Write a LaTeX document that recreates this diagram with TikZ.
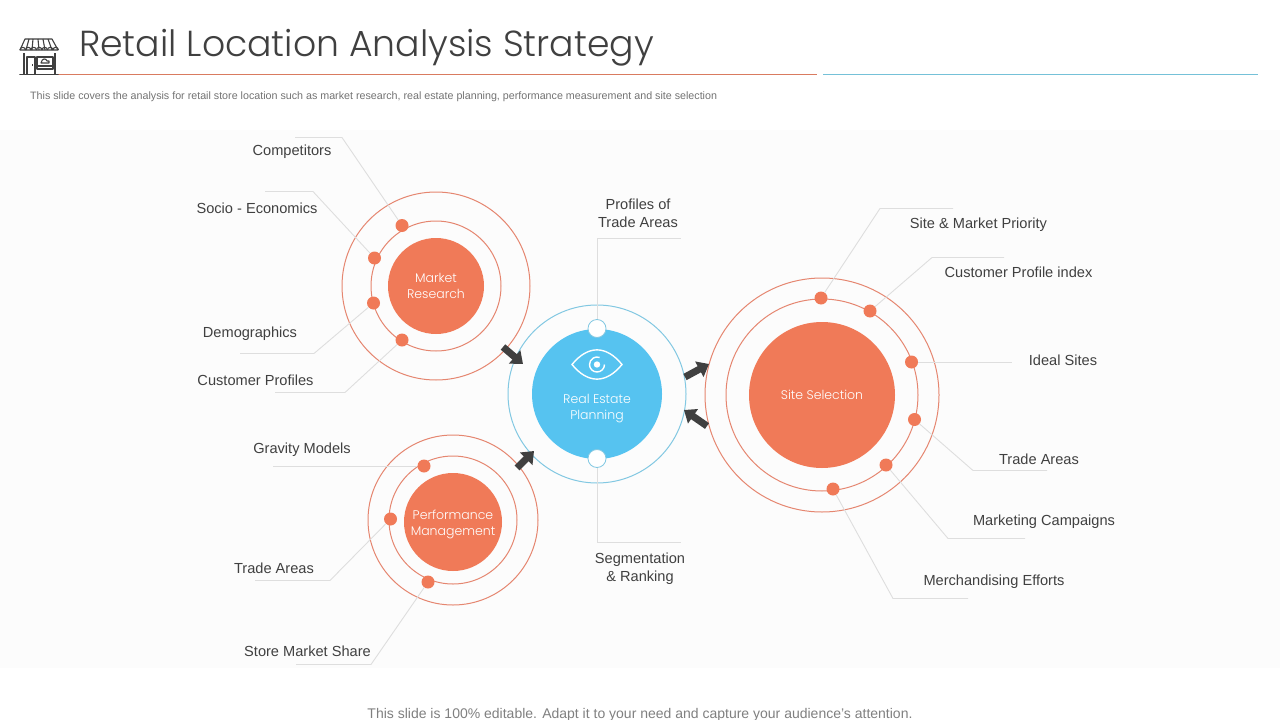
\documentclass[tikz,border=0pt]{standalone}
\usepackage{fontspec}
\setmainfont{Liberation Sans}
\newfontfamily\titlefont{Poppins Light}
\newfontfamily\bubblefont{Poppins Light}
\usetikzlibrary{arrows.meta}
\definecolor{coral}{HTML}{F07A58}
\definecolor{coralring}{HTML}{E58670}
\definecolor{skyfill}{HTML}{56C3F0}
\definecolor{skyring}{HTML}{82C8E2}
\definecolor{leader}{HTML}{DEDEDE}
\definecolor{labeltext}{HTML}{404040}
\tikzset{
    ring/.style={circle,draw=coralring,line width=1pt,inner sep=0pt},
    hub/.style={circle,fill=coral,text=white,inner sep=0pt,align=center,font=\bubblefont\fontsize{12.5}{16}\selectfont},
    dot/.style={circle,fill=coral,inner sep=0pt,minimum size=13pt},
    port/.style={circle,draw=skyring,fill=white,line width=0.8pt,inner sep=0pt,minimum size=18pt},
    lbl/.style={text=labeltext,align=center,font=\fontsize{14.6}{18}\selectfont},
    lead/.style={draw=leader,line width=0.9pt},
    push/.style={draw=labeltext,line width=7pt,-{Triangle[length=11pt,width=17pt]}}
}
\begin{document}
\begin{tikzpicture}[x=1pt,y=-1pt]
    \useasboundingbox (0,0) rectangle (1280,720);
    \fill[white] (0,0) rectangle (1280,720);
    \fill[black!1] (0,130) rectangle (1280,668);

    % heading
    \node[anchor=west,inner sep=0pt,text=labeltext,font=\titlefont\fontsize{36.2}{40}\selectfont] (title) at (79,48) {Retail Location Analysis Strategy};
    \node[anchor=west,inner sep=0pt,text=black!55,font=\fontsize{10.7}{12}\selectfont] (subtitle) at (30,96.5) {This slide covers the analysis for retail store location such as market research, real estate planning, performance measurement and site selection};
    \coordinate (rulea) at (58,74.5);
    \coordinate (ruleb) at (817,74.5);
    \coordinate (rulec) at (823,74.5);
    \coordinate (ruled) at (1258,74.5);
    \draw[draw=coral!80!gray,line width=1pt] (rulea) -- (ruleb);
    \draw[draw=skyring!90!teal,line width=1pt] (rulec) -- (ruled);
    \node[text=black!50,font=\fontsize{14}{16}\selectfont] (footer) at (640,715) {This slide is 100\% editable. Adapt it to your need and capture your audience's attention.};

    % shop icon
    \begin{scope}[draw=labeltext,line width=1.1pt,line join=round]
        \draw (25,39) -- (52,39) -- (58,50) -- (20,50) -- cycle;
        \foreach \xa/\xb in {29/26,33/32,38/39,43/45,48/52}
            \draw (\xa,39) -- (\xb,50);
        \foreach \xa in {20,25.5,31,36.5,42,47.5,53}
            \draw (\xa,50) arc[start angle=180,end angle=360,radius=2.7];
        \draw (24,53) -- (24,74) (55,53) -- (55,74);
        \draw (27,74) -- (27,57) -- (35,57) -- (35,74);
        \draw (32.5,64) -- (32.5,66);
        \draw (37,57) rectangle (53,69);
        \draw (37,66) -- (53,66);
        \draw (41,63) .. controls (42,58) and (46,58) .. (47,61) -- (49,61) -- (49,63) -- cycle;
        \draw[line width=1.6pt,line cap=round] (20,74.5) -- (58,74.5);
    \end{scope}

    % market research
    \node[ring,minimum size=188pt] (mrouter) at (436,286) {};
    \node[ring,minimum size=130pt] (mrmid) at (436,286) {};
    \node[hub,minimum size=96pt] (mr) at (436,286) {Market\\Research};
    \node[dot] (mra) at (402,225.5) {};
    \node[dot] (mrb) at (374.5,258) {};
    \node[dot] (mrc) at (373.5,303) {};
    \node[dot] (mrd) at (402,340) {};

    % performance management
    \node[ring,minimum size=170pt] (pmouter) at (453,520) {};
    \node[ring,minimum size=128pt] (pmmid) at (453,520) {};
    \node[hub,minimum size=98pt] (pm) at (453,522) {\\[-2pt]Performance\\Management};
    \node[dot] (pma) at (424,466) {};
    \node[dot] (pmb) at (390.5,519) {};
    \node[dot] (pmc) at (428,582) {};

    % site selection
    \node[ring,minimum size=234pt] (ssouter) at (822,395) {};
    \node[ring,minimum size=192pt] (ssmid) at (822,395) {};
    \node[hub,minimum size=146pt] (ss) at (822,395) {Site Selection};
    \node[dot] (ssa) at (821,298) {};
    \node[dot] (ssb) at (870,311) {};
    \node[dot] (ssc) at (911.5,362) {};
    \node[dot] (ssd) at (914.5,419.5) {};
    \node[dot] (sse) at (886,465) {};
    \node[dot] (ssf) at (833,489) {};

    % real estate planning
    \node[circle,draw=skyring,line width=1pt,inner sep=0pt,minimum size=178pt] (reouter) at (597,394) {};
    \node[circle,fill=skyfill,text=white,inner sep=0pt,minimum size=130pt,align=center,font=\bubblefont\fontsize{12.5}{16}\selectfont] (re) at (597,394) {\\[22pt]Real Estate\\Planning};
    \node[port] (rea) at (597,328.5) {};
    \node[port] (reb) at (597,458.5) {};

    % eye
    \begin{scope}[draw=white,line width=1.4pt]
        \draw (572,364.5) .. controls (588,345) and (606,345) .. (622,364.5) .. controls (606,384) and (588,384) .. (572,364.5) -- cycle;
        \draw (604.5,364.5) arc[start angle=0,end angle=290,radius=7.5];
        \fill[white] (597,364.5) circle (3.2);
    \end{scope}

    % labels
    \node[lbl] (competitors) at (292,152) {Competitors};
    \node[lbl] (socio) at (257,208.5) {Socio - Economics};
    \node[lbl] (demo) at (250,334) {Demographics};
    \node[lbl] (custprof) at (255.5,380) {Customer Profiles};
    \node[lbl] (gravity) at (302,449.5) {Gravity Models};
    \node[lbl] (tradea) at (274,568.5) {Trade Areas};
    \node[lbl] (share) at (307.5,651.5) {Store Market Share};
    \node[lbl] (profiles) at (638,213) {Profiles of\\Trade Areas};
    \node[lbl] (segment) at (640,568.5) {Segmentation\\\& Ranking};
    \node[lbl] (priority) at (978.5,224.5) {Site \& Market Priority};
    \node[lbl] (custidx) at (1018.5,272.5) {Customer Profile index};
    \node[lbl] (ideal) at (1063,360.5) {Ideal Sites};
    \node[lbl] (tradeb) at (1039,459.5) {Trade Areas};
    \node[lbl] (campaign) at (1044,521.5) {Marketing Campaigns};
    \node[lbl] (merch) at (994,581.5) {Merchandising Efforts};

    % elbows of the leader lines
    \coordinate (ea1) at (342,137.5);   \coordinate (ea2) at (295,137.5);
    \coordinate (eb1) at (313,191.5);   \coordinate (eb2) at (265,191.5);
    \coordinate (ec1) at (314,353.5);   \coordinate (ec2) at (240,353.5);
    \coordinate (ed1) at (345,392.5);   \coordinate (ed2) at (275,392.5);
    \coordinate (ee2) at (273,466);
    \coordinate (ef1) at (330,580.5);   \coordinate (ef2) at (255,580.5);
    \coordinate (eg1) at (371,664.5);   \coordinate (eg2) at (296,664.5);
    \coordinate (eh1) at (597,238.5);   \coordinate (eh2) at (681,238.5);
    \coordinate (ei1) at (597,542.5);   \coordinate (ei2) at (681,542.5);
    \coordinate (ej1) at (880,208.5);   \coordinate (ej2) at (953,208.5);
    \coordinate (ek1) at (932,257.5);   \coordinate (ek2) at (1004,257.5);
    \coordinate (el2) at (1012,362);
    \coordinate (em1) at (973,470.5);   \coordinate (em2) at (1047,470.5);
    \coordinate (en1) at (948,538.5);   \coordinate (en2) at (1025,538.5);
    \coordinate (eo1) at (893,598.5);   \coordinate (eo2) at (968,598.5);

    \draw[lead] (mra) -- (ea1) -- (ea2);
    \draw[lead] (mrb) -- (eb1) -- (eb2);
    \draw[lead] (mrc) -- (ec1) -- (ec2);
    \draw[lead] (mrd) -- (ed1) -- (ed2);
    \draw[lead] (pma) -- (ee2);
    \draw[lead] (pmb) -- (ef1) -- (ef2);
    \draw[lead] (pmc) -- (eg1) -- (eg2);
    \draw[lead] (rea) -- (eh1) -- (eh2);
    \draw[lead] (reb) -- (ei1) -- (ei2);
    \draw[lead] (ssa) -- (ej1) -- (ej2);
    \draw[lead] (ssb) -- (ek1) -- (ek2);
    \draw[lead] (ssc) -- (el2);
    \draw[lead] (ssd) -- (em1) -- (em2);
    \draw[lead] (sse) -- (en1) -- (en2);
    \draw[lead] (ssf) -- (eo1) -- (eo2);

    % block arrows
    \coordinate (pa1) at (503,347);   \coordinate (pa2) at (523,364);
    \coordinate (pb1) at (517,468);   \coordinate (pb2) at (534,451);
    \coordinate (pc1) at (685,377);   \coordinate (pc2) at (709,364);
    \coordinate (pd1) at (707,426);   \coordinate (pd2) at (684,410);
    \draw[push] (pa1) -- (pa2);
    \draw[push] (pb1) -- (pb2);
    \draw[push] (pc1) -- (pc2);
    \draw[push] (pd1) -- (pd2);
\end{tikzpicture}
\end{document}
